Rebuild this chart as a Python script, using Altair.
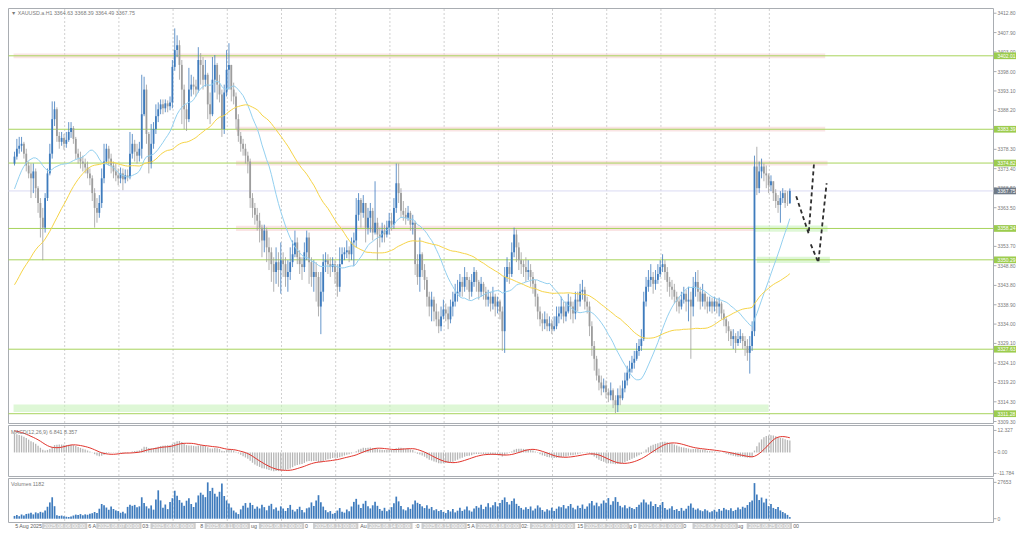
import altair as alt
import pandas as pd
import numpy as np

# ------------------------------------------------------------------ data
# closes of the hours before the visible window (only used to seed the moving averages / MACD)
WARMUP_CLOSE = [3324, 3327, 3322, 3325, 3328, 3326, 3323, 3321, 3324, 3327, 3330, 3328, 3325, 3323,
                3326, 3329, 3327, 3324, 3322, 3325, 3328, 3331, 3329, 3326, 3324, 3327, 3330, 3328,
                3325, 3322, 3324, 3327, 3326, 3323, 3325,
                3328, 3330, 3333, 3337, 3339, 3342, 3346, 3348, 3351, 3355, 3357, 3360, 3364, 3366,
                3369, 3372, 3374, 3377, 3380, 3382,
                3380, 3378, 3379, 3376, 3374.7]

CLOSE = [
    3376.45, 3378.45, 3379.2, 3379.7, 3377.2, 3374.2, 3372.2, 3370.95, 3372.7, 3368.45,
    3364.7, 3360.95, 3358.45, 3365.95, 3372.2, 3377.2, 3385.95, 3388.45, 3381.7, 3380.2,
    3381.2, 3379.7, 3380.7, 3382.7, 3383.7, 3380.95, 3377.2, 3376.2, 3375.2, 3374.7,
    3373.7, 3372.2, 3370.95, 3367.2, 3363.45, 3362.2, 3364.7, 3370.95, 3375.2, 3378.45,
    3375.95, 3374.2, 3372.7, 3371.7, 3370.95, 3372.2, 3370.7, 3371.7, 3371.2, 3377.2,
    3379.7, 3377.7, 3376.7, 3378.45, 3387.2, 3393.45, 3382.2, 3374.7, 3379.7, 3383.45,
    3386.7, 3388.45, 3389.7, 3388.7, 3389.95, 3389.2, 3390.2, 3399.2, 3403.45, 3404.7,
    3399.7, 3393.45, 3388.45, 3385.95, 3393.45, 3394.7, 3394.2, 3393.45, 3400.95, 3399.7,
    3395.95, 3397.2, 3389.7, 3387.2, 3395.95, 3399.7, 3394.7, 3392.2, 3383.45, 3392.7,
    3398.45, 3399.7, 3393.45, 3391.7, 3385.95, 3381.7, 3379.7, 3378.45, 3376.7, 3375.2,
    3365.95, 3363.45, 3361.7, 3360.2, 3358.45, 3355.2, 3357.7, 3353.45, 3352.2, 3349.2,
    3347.2, 3349.7, 3347.7, 3350.2, 3349.2, 3345.95, 3347.2, 3349.7, 3351.7, 3354.7,
    3350.95, 3349.2, 3348.45, 3352.2, 3355.95, 3349.7, 3345.95, 3347.2, 3345.95, 3338.45,
    3342.2, 3349.7, 3350.2, 3349.2, 3348.45, 3349.2, 3347.2, 3343.45, 3349.2, 3351.7,
    3352.2, 3352.7, 3351.7, 3354.7, 3355.2, 3361.7, 3365.45, 3362.2, 3364.7, 3358.45,
    3360.95, 3362.7, 3357.2, 3359.7, 3356.7, 3355.95, 3357.7, 3356.7, 3358.45, 3360.2,
    3359.2, 3363.45, 3369.7, 3367.2, 3362.7, 3361.7, 3360.95, 3362.2, 3359.2, 3359.7,
    3349.2, 3345.95, 3351.7, 3347.7, 3345.2, 3340.95, 3338.45, 3340.2, 3337.2, 3335.2,
    3333.45, 3335.95, 3337.7, 3336.7, 3335.2, 3338.45, 3339.7, 3341.7, 3342.2, 3344.7,
    3343.45, 3345.95, 3345.2, 3342.2, 3344.7, 3347.2, 3344.7, 3342.2, 3344.2, 3342.2,
    3340.2, 3340.95, 3339.2, 3340.95, 3338.45, 3339.7, 3337.2, 3332.2, 3345.95, 3348.45,
    3346.7, 3352.2, 3356.7, 3353.45, 3350.2, 3349.2, 3348.45, 3347.2, 3347.7, 3345.95,
    3344.2, 3340.95, 3337.2, 3335.2, 3334.2, 3335.2, 3333.45, 3334.2, 3332.7, 3333.45,
    3335.95, 3336.7, 3338.45, 3335.95, 3337.2, 3339.7, 3338.45, 3336.7, 3340.2, 3339.7,
    3342.2, 3342.7, 3339.7, 3338.45, 3333.45, 3328.45, 3325.2, 3320.95, 3319.2, 3317.7,
    3318.45, 3316.7, 3315.95, 3317.2, 3314.7, 3313.45, 3315.95, 3315.2, 3317.7, 3319.7,
    3321.7, 3322.7, 3324.2, 3325.2, 3327.2, 3328.45, 3330.2, 3339.7, 3343.45, 3345.2,
    3345.95, 3344.2, 3345.2, 3346.7, 3348.45, 3349.2, 3347.2, 3344.7, 3343.45, 3342.7,
    3340.95, 3339.7, 3338.45, 3340.2, 3341.7, 3339.7, 3340.2, 3338.45, 3343.45, 3344.7,
    3342.2, 3339.7, 3341.7, 3339.7, 3338.45, 3339.7, 3338.45, 3339.7, 3338.45, 3339.2,
    3336.7, 3335.2, 3333.45, 3332.2, 3330.2, 3330.95, 3329.2, 3330.2, 3330.95, 3329.7,
    3328.45, 3326.7, 3328.45, 3332.2, 3373.95, 3368.45, 3372.7, 3373.95, 3372.2, 3371.7,
    3369.2, 3370.2, 3367.2, 3365.2, 3364.2, 3365.95, 3367.2, 3364.7, 3364.63, 3367.75,
]

HIGH = [
    3377.7, 3380.95, 3381.45, 3381.45, 3380.2, 3378.45, 3375.2, 3374.7, 3374.7, 3373.45,
    3368.95, 3365.95, 3363.45, 3367.2, 3373.45, 3379.7, 3390.45, 3390.45, 3388.95, 3382.7,
    3382.7, 3382.2, 3382.7, 3385.2, 3385.2, 3384.2, 3381.45, 3378.45, 3377.7, 3376.7,
    3375.95, 3375.2, 3373.45, 3371.7, 3368.45, 3365.95, 3366.7, 3373.45, 3379.7, 3379.7,
    3379.2, 3377.2, 3375.2, 3374.7, 3373.45, 3373.7, 3373.45, 3373.2, 3373.2, 3382.7,
    3382.2, 3380.7, 3379.7, 3380.2, 3397.2, 3396.7, 3394.7, 3382.7, 3384.7, 3385.2,
    3389.7, 3390.2, 3390.95, 3390.95, 3390.95, 3390.7, 3391.7, 3400.95, 3408.95, 3407.2,
    3405.95, 3400.95, 3394.7, 3389.7, 3398.95, 3397.2, 3396.7, 3395.95, 3404.2, 3402.7,
    3401.7, 3400.95, 3397.7, 3392.7, 3401.7, 3402.2, 3400.2, 3397.2, 3393.45, 3394.7,
    3403.45, 3405.2, 3399.7, 3395.2, 3392.7, 3387.2, 3382.7, 3380.95, 3379.7, 3377.7,
    3375.95, 3367.2, 3364.7, 3363.45, 3362.2, 3359.2, 3359.2, 3358.45, 3355.95, 3353.45,
    3350.95, 3353.45, 3352.2, 3354.7, 3352.2, 3350.95, 3350.2, 3353.45, 3355.2, 3357.7,
    3355.95, 3352.7, 3350.95, 3354.7, 3357.7, 3357.2, 3350.95, 3350.2, 3349.7, 3347.2,
    3347.2, 3351.7, 3352.2, 3351.7, 3350.95, 3350.95, 3350.2, 3349.2, 3353.45, 3353.45,
    3353.45, 3355.2, 3353.7, 3355.95, 3357.2, 3365.95, 3367.2, 3365.95, 3366.7, 3364.7,
    3363.45, 3364.7, 3363.45, 3370.2, 3360.95, 3358.45, 3359.7, 3359.2, 3360.2, 3362.2,
    3362.2, 3365.95, 3374.7, 3374.7, 3368.45, 3365.2, 3363.45, 3363.95, 3362.7, 3361.7,
    3360.2, 3351.7, 3355.95, 3352.2, 3349.2, 3345.95, 3342.2, 3342.2, 3340.95, 3339.2,
    3337.2, 3338.45, 3340.2, 3339.2, 3338.45, 3340.2, 3342.2, 3344.2, 3345.2, 3346.7,
    3345.95, 3348.45, 3347.2, 3345.95, 3346.7, 3348.45, 3347.7, 3345.2, 3345.95, 3344.7,
    3343.45, 3342.7, 3342.2, 3343.45, 3341.7, 3340.95, 3340.2, 3338.45, 3348.45, 3350.95,
    3349.7, 3354.7, 3358.45, 3357.95, 3354.7, 3352.2, 3350.2, 3350.95, 3350.2, 3349.2,
    3347.2, 3345.2, 3341.7, 3338.45, 3336.7, 3337.2, 3336.7, 3335.95, 3335.2, 3335.95,
    3338.45, 3338.45, 3340.95, 3339.7, 3339.7, 3341.7, 3340.95, 3339.7, 3342.2, 3342.2,
    3344.2, 3345.2, 3343.45, 3340.95, 3339.7, 3334.7, 3329.7, 3325.95, 3322.7, 3320.95,
    3320.2, 3319.7, 3317.7, 3319.2, 3317.7, 3315.95, 3317.7, 3318.45, 3319.7, 3321.7,
    3323.45, 3324.7, 3325.95, 3327.2, 3329.2, 3330.2, 3332.7, 3342.2, 3345.95, 3347.7,
    3349.2, 3347.2, 3347.7, 3349.2, 3350.2, 3351.7, 3350.2, 3348.45, 3345.95, 3345.2,
    3344.2, 3342.2, 3340.95, 3342.2, 3343.45, 3342.7, 3343.45, 3342.2, 3345.95, 3347.2,
    3347.7, 3343.45, 3344.2, 3342.2, 3340.95, 3340.95, 3340.7, 3340.95, 3340.45, 3340.7,
    3339.7, 3337.7, 3335.95, 3334.7, 3332.7, 3332.7, 3331.7, 3332.2, 3332.7, 3331.7,
    3330.95, 3330.2, 3330.95, 3334.7, 3376.7, 3378.95, 3375.2, 3375.95, 3374.7, 3374.2,
    3372.2, 3371.7, 3370.2, 3368.2, 3366.7, 3367.7, 3368.45, 3367.95, 3367.7, 3368.39,
]

LOW = [
    3374.2, 3375.7, 3377.2, 3377.7, 3375.95, 3372.7, 3370.95, 3365.95, 3367.2, 3365.95,
    3362.2, 3355.95, 3350.2, 3357.2, 3365.2, 3371.7, 3375.95, 3384.2, 3380.2, 3378.45,
    3379.2, 3378.2, 3378.7, 3380.2, 3381.2, 3379.7, 3375.7, 3374.7, 3373.45, 3372.7,
    3372.2, 3370.95, 3369.2, 3365.2, 3358.45, 3359.7, 3360.95, 3363.45, 3369.7, 3374.7,
    3374.2, 3372.2, 3370.95, 3370.2, 3369.2, 3369.7, 3367.95, 3369.7, 3370.2, 3370.7,
    3375.95, 3375.2, 3374.7, 3375.2, 3375.95, 3386.7, 3379.7, 3372.2, 3373.45, 3378.45,
    3382.2, 3385.2, 3387.2, 3387.2, 3387.7, 3387.7, 3388.2, 3388.7, 3398.2, 3401.7,
    3395.95, 3384.7, 3383.45, 3382.95, 3385.2, 3391.7, 3392.2, 3391.7, 3392.7, 3394.7,
    3393.45, 3394.2, 3385.95, 3384.7, 3386.7, 3392.7, 3390.95, 3390.2, 3381.45, 3382.2,
    3391.7, 3393.45, 3390.45, 3389.7, 3383.45, 3380.2, 3377.7, 3376.7, 3374.7, 3372.2,
    3363.45, 3360.95, 3359.2, 3357.7, 3354.7, 3350.95, 3352.2, 3349.7, 3347.7, 3344.7,
    3342.2, 3344.2, 3343.45, 3341.7, 3345.95, 3343.45, 3342.2, 3345.2, 3348.45, 3350.95,
    3349.2, 3346.7, 3345.2, 3347.2, 3350.2, 3344.2, 3343.45, 3342.2, 3339.7, 3335.95,
    3331.45, 3339.7, 3347.2, 3346.7, 3345.95, 3347.2, 3344.2, 3340.95, 3342.2, 3349.2,
    3350.2, 3350.7, 3349.7, 3350.2, 3348.7, 3353.45, 3360.2, 3358.45, 3360.95, 3354.7,
    3356.7, 3357.2, 3355.2, 3356.7, 3350.2, 3353.45, 3354.7, 3354.7, 3355.95, 3356.7,
    3357.7, 3358.2, 3362.2, 3364.7, 3360.95, 3360.2, 3359.2, 3360.2, 3357.7, 3356.7,
    3346.45, 3343.95, 3342.2, 3345.95, 3342.7, 3338.45, 3335.95, 3334.7, 3334.7, 3333.45,
    3331.7, 3332.2, 3335.2, 3334.7, 3332.7, 3334.2, 3335.95, 3338.45, 3339.7, 3340.95,
    3340.95, 3342.2, 3342.7, 3340.2, 3340.95, 3343.45, 3342.2, 3340.2, 3340.95, 3340.2,
    3338.45, 3338.45, 3337.2, 3337.7, 3335.95, 3336.7, 3335.2, 3327.2, 3326.7, 3344.7,
    3344.2, 3345.95, 3350.95, 3349.7, 3347.7, 3346.7, 3345.95, 3344.7, 3345.2, 3343.45,
    3341.7, 3338.45, 3335.2, 3333.45, 3332.2, 3332.7, 3332.2, 3332.2, 3331.45, 3332.2,
    3332.7, 3334.2, 3335.2, 3334.2, 3334.7, 3336.7, 3335.2, 3334.2, 3335.2, 3337.2,
    3338.45, 3340.2, 3337.7, 3336.7, 3330.95, 3325.95, 3322.2, 3319.7, 3317.2, 3315.95,
    3316.7, 3315.2, 3314.2, 3314.7, 3312.7, 3311.45, 3311.7, 3313.45, 3314.7, 3316.7,
    3318.45, 3320.2, 3321.7, 3322.7, 3324.7, 3325.95, 3327.2, 3329.7, 3338.45, 3342.2,
    3343.45, 3341.7, 3342.7, 3344.2, 3345.95, 3347.2, 3345.2, 3342.2, 3340.95, 3340.2,
    3339.2, 3337.2, 3336.7, 3337.7, 3339.2, 3337.2, 3334.7, 3325.2, 3335.95, 3340.95,
    3339.7, 3337.7, 3338.45, 3337.7, 3336.7, 3337.2, 3336.7, 3337.2, 3336.7, 3335.95,
    3335.2, 3333.45, 3331.7, 3329.7, 3328.45, 3327.7, 3326.7, 3328.45, 3329.2, 3327.7,
    3325.95, 3324.7, 3321.45, 3327.2, 3330.95, 3366.7, 3367.2, 3370.95, 3370.2, 3368.45,
    3367.2, 3367.7, 3365.2, 3363.45, 3362.2, 3359.7, 3364.7, 3363.45, 3363.95, 3364.49,
]

VOLUME = [
    2100, 2800, 1900, 3200, 2500, 3600, 3900, 4500, 3300, 4800, 4100, 5200, 4700,
    6200, 9100, 12400, 16300, 9500, 2600, 2100, 2400, 1800, 1500, 1300, 1700,
    2400, 3100, 2800, 3500, 2600, 3300, 3000, 3800, 4200, 5100, 4400, 7600, 11200, 10300,
    8500, 6800, 9200, 7400, 6300, 5800, 4500, 5200, 4000, 9000, 10600, 9800, 10500, 8700, 9400,
    16300, 12000, 9400, 7800, 10100, 6900, 14600, 21600, 13900, 8400, 10800, 7300, 12700, 15600,
    21300, 17400, 14200, 12200, 9800, 13700, 15600, 11200, 8900, 12300, 17700, 19800, 18200, 16400,
    27653, 21000, 23500, 19000, 16800, 20500, 26800, 17300, 13900, 11600, 8500, 6200, 4800, 3500,
    7100, 9800, 11900, 8400, 12100, 10400, 7600,
    9200, 7800, 10600, 8800, 6400, 9900, 11300, 7200, 8500, 6100, 9400, 7700, 5900, 8200, 10500,
    6800, 5400, 7300, 9100, 6600, 4800, 7900, 8600, 12400, 9700,
    13800, 17900, 12600, 9200, 6500, 4900, 5800, 3700, 4400, 6200, 8100, 5300, 4600, 7000, 5600,
    9300, 12800, 15100, 10700, 8200, 11400, 13600, 9500, 7800, 10200,
    12900, 9800, 7400, 6100, 8300, 5700, 6900, 8800, 11700, 16800, 13200, 9600, 7100,
    6300, 8700, 7500, 10900, 13800, 12100, 11200, 9400, 8100, 10300, 7600, 8900, 6400, 7200, 5800, 6700,
    5100, 4300, 6600, 5500, 7400, 4800, 6100, 8300, 5900, 7000, 9200, 6300, 5400,
    7800, 9600, 8400, 10700, 7300, 9100, 11800, 8600, 10200, 12600, 9400, 11900, 14300,
    16200, 12700, 10800, 13500, 15400, 11300, 9700, 8200,
    6900, 8800, 7400, 9300, 6200, 7700, 10100, 8500, 6600, 5400, 7100, 6300, 8400, 5900, 7600, 9200,
    8700, 10400, 7800, 9600, 11200, 8300, 7100, 9900, 8100, 10800, 7500, 9300, 11700, 13400, 10100, 12200, 9500,
    11500, 13900, 12100, 15700, 10600, 13200, 16400, 12800,
    9800, 8600, 10300, 7900, 9100, 8200, 7300, 8900, 10600, 12400,
    14600, 12300, 10800, 13100, 9700, 11200, 8900, 10400, 12700,
    8100, 6900, 7800, 9400, 6600, 7300, 5800, 8200, 6100, 7500, 9800, 11600, 8300, 6900, 7700,
    6400, 5700, 7100, 6200, 4900, 5600, 6800, 5300, 7400, 6100, 8200, 7000, 6500, 7900, 5800,
    6700, 8500, 7200, 9100, 8300, 10400, 12600,
    13800, 27100, 18400, 14200, 16100, 12300, 15200,
    9600, 11100, 8200, 7400, 8900, 6300, 5100, 4200, 2900, 1182,
]

PRICE_TICKS = [3412.8, 3407.9, 3403.0, 3398.0, 3393.1, 3388.2, 3383.3, 3378.3, 3373.4, 3368.5,
               3363.5, 3358.6, 3353.7, 3348.8, 3343.8, 3338.9, 3334.0, 3329.1, 3324.1, 3319.2,
               3314.3, 3309.3]
MACD_TICKS = [12.327, 0.0, -11.784]
MACD_TICK_LABELS = ["12.327", "0.00", "-11.784"]
VOL_TICKS = [27653, 0]
VOL_TICK_LABELS = ["27653", "0"]

LEVELS = [3402.01, 3383.39, 3374.82, 3358.24, 3350.29, 3327.63, 3311.28]
LAST_PRICE = 3367.75

# shaded zones on the chart (from bar, to bar, low price, high price, kind)
ZONE_X0 = [-0.4, 94, 94, 94, 314, 315, -0.4]
ZONE_X1 = [344, 344, 345, 314, 345, 346, 320]
ZONE_P0 = [3401.4, 3382.8, 3374.2, 3357.6, 3357.4, 3349.5, 3311.7]
ZONE_P1 = [3402.6, 3384.0, 3375.4, 3358.9, 3359.0, 3351.1, 3313.6]
ZONE_KIND = ["pink", "pink", "pink", "pink", "green", "green", "green"]

# hand-drawn dashed forecast lines (bar position, price)
DRAW_SEG = ["a", "a", "a", "b", "b", "b"]
DRAW_X = [331.7, 337.0, 339.3, 337.9, 341.1, 344.6]
DRAW_P = [3366.4, 3356.9, 3375.1, 3354.2, 3349.6, 3369.7]

DAY_LABELS = ["2025.08.06 00:00", "2025.08.07 00:00", "2025.08.08 00:00", "2025.08.11 00:00",
              "2025.08.12 00:00", "2025.08.13 00:00", "2025.08.14 00:00", "2025.08.15 00:00",
              "2025.08.18 00:00", "2025.08.19 00:00", "2025.08.20 00:00", "2025.08.21 00:00",
              "2025.08.22 00:00", "2025.08.25 00:00"]
DAY_BAR = [21.3, 44.3, 67.3, 90.3, 113.3, 136.3, 159.3, 182.3, 205.3, 228.3, 251.3, 274.3, 297.3, 320.3]

FRAG_TEXT = ["5 Aug 2025", "6 A", "03:", "8", "ug", "0", "Au", ":0", "5 A", "02:", "15", "g 0", "0", "ug", "00"]
FRAG_BAR = [0.3, 31.3, 54.2, 78.8, 100.4, 123.3, 146.7, 170.0, 192.1, 215.0, 238.8, 260.8, 283.8, 306.7, 330.4]

TITLE = "\u25bc XAUUSD.a.H1  3364.63 3368.39 3364.49 3367.75"
MACD_TITLE = "MACD(12,26,9) 6.841 8.357"
VOL_TITLE = "Volumes 1182"

# ------------------------------------------------------------------ derived series
n = min(len(CLOSE), len(HIGH), len(LOW), len(VOLUME))
nw = len(WARMUP_CLOSE)
allc = pd.Series(WARMUP_CLOSE + CLOSE[:n], dtype=float)
sma20 = allc.rolling(20).mean()
sma50 = allc.rolling(50).mean()
ema12 = allc.ewm(span=12, adjust=False).mean()
ema26 = allc.ewm(span=26, adjust=False).mean()
macd = ema12 - ema26
signal = macd.rolling(9).mean()

opens = [WARMUP_CLOSE[-1]] + CLOSE[: n - 1]
df = pd.DataFrame({"i": np.arange(n), "o": opens, "c": CLOSE[:n], "v": VOLUME[:n]})
df["h"] = np.maximum.reduce([np.array(HIGH[:n]), df["o"].values, df["c"].values])
df["l"] = np.minimum.reduce([np.array(LOW[:n]), df["o"].values, df["c"].values])
df["ma20"] = sma20.iloc[nw:].values
df["ma50"] = sma50.iloc[nw:].values
df["macd"] = macd.iloc[nw:].values
df["sig"] = signal.iloc[nw:].values

levels_df = pd.DataFrame({"p": LEVELS, "lab": [f"{v:.2f}" for v in LEVELS]})
levels_df["top"] = levels_df["p"] + 0.85
levels_df["bot"] = levels_df["p"] - 0.85
last_df = pd.DataFrame({"p": [LAST_PRICE], "lab": [f"{LAST_PRICE:.2f}"],
                        "top": [LAST_PRICE + 0.85], "bot": [LAST_PRICE - 0.85]})
zones_df = pd.DataFrame({"x0": ZONE_X0, "x1": ZONE_X1, "p0": ZONE_P0, "p1": ZONE_P1, "kind": ZONE_KIND})
draw_df = pd.DataFrame({"seg": DRAW_SEG, "x": DRAW_X, "p": DRAW_P, "k": range(len(DRAW_X))})
days_df = pd.DataFrame({"d": DAY_BAR, "lab": DAY_LABELS})
days_df["d0"] = days_df["d"] - 9.6
days_df["d1"] = days_df["d"] + 9.6
frag_df = pd.DataFrame({"fx": FRAG_BAR, "t": FRAG_TEXT})
pt_df = pd.DataFrame({"p": PRICE_TICKS, "lab": [f"{v:.2f}" for v in PRICE_TICKS]})
mt_df = pd.DataFrame({"p": MACD_TICKS, "lab": MACD_TICK_LABELS})
vt_df = pd.DataFrame({"p": VOL_TICKS, "lab": VOL_TICK_LABELS})
one = pd.DataFrame({"k": [0]})

# ------------------------------------------------------------------ layout & style
FONT = "Liberation Sans"
FS = 5.3
FSR = 5.0
TOTAL_W, TOTAL_H = 1008, 521
FX0, FX1 = 0.5, 985.5          # panel frame, left / right
FY0, FY1 = 0.5, 415.5          # price panel
MY0, MY1 = 417.5, 468.5        # MACD panel
VY0, VY1 = 470.5, 514.5        # volume panel
TY0, TY1 = 515.0, 521.0        # time labels row

BLUE = "#3e7bbd"
GREY = "#9d9d9d"
LEVEL_GREEN = "#a8d45c"
LABEL_GREEN = "#9ccc4e"
FRAME = "#a9adb2"
GRID = "#d0d0d0"
TXT = "#7a7a7a"

xsc = alt.Scale(domain=[-0.42, 413.3], range=[FX0, FX1], nice=False, zero=False)
psc = alt.Scale(domain=[3308.8, 3414.0], range=[FY1, FY0], nice=False, zero=False)
msc = alt.Scale(domain=[-13.5, 15.1], range=[MY1, MY0], nice=False, zero=False, clamp=True)
vsc = alt.Scale(domain=[-2900, 30600], range=[VY1, VY0], nice=False, zero=False)


def X(f):
    return alt.X(f, scale=xsc, axis=None)


def P(f):
    return alt.Y(f, scale=psc, axis=None)


def M(f):
    return alt.Y(f, scale=msc, axis=None)


def V(f):
    return alt.Y(f, scale=vsc, axis=None)


up_color = alt.condition("datum.c >= datum.o", alt.value(BLUE), alt.value(GREY))
base = alt.Chart(df)
layers = []

# frames
for y0, y1 in [(FY0, FY1), (MY0, MY1), (VY0, VY1)]:
    layers.append(alt.Chart(one).mark_rect(fill="white", fillOpacity=0, stroke=FRAME, strokeWidth=1).encode(
        x=alt.value(FX0), x2=alt.value(FX1), y=alt.value(y0), y2=alt.value(y1)))

# day separators in every panel
for y0, y1 in [(FY0, FY1), (MY0, MY1), (VY0, VY1)]:
    layers.append(alt.Chart(days_df).mark_rule(strokeDash=[2, 2], color=GRID, strokeWidth=1).encode(
        x=X("d:Q"), y=alt.value(y0 + 0.5), y2=alt.value(y1 - 0.5)))

# ---- price panel
layers.append(alt.Chart(zones_df).mark_rect(opacity=0.6).encode(
    x=X("x0:Q"), x2="x1:Q", y=P("p0:Q"), y2="p1:Q",
    color=alt.condition("datum.kind == 'pink'", alt.value("#f6d2d2"), alt.value("#c8f2ba"))))
layers.append(alt.Chart(levels_df).mark_rule(color=LEVEL_GREEN, strokeWidth=1).encode(
    x=alt.value(FX0), x2=alt.value(FX1), y=P("p:Q")))
layers.append(alt.Chart(last_df).mark_rule(color="#dadaf3", strokeWidth=1).encode(
    x=alt.value(FX0), x2=alt.value(FX1), y=P("p:Q")))
layers.append(base.mark_rule(strokeWidth=1, opacity=0.8).encode(
    x=X("i:Q"), y=P("l:Q"), y2="h:Q", color=up_color))
layers.append(base.mark_bar(size=1.8).encode(
    x=X("i:Q"), y=P("o:Q"), y2="c:Q", color=up_color))
layers.append(base.mark_line(color="#93d0f0", strokeWidth=1).encode(x=X("i:Q"), y=P("ma20:Q")))
layers.append(base.mark_line(color="#f6d447", strokeWidth=1).encode(x=X("i:Q"), y=P("ma50:Q")))
layers.append(alt.Chart(draw_df).mark_line(color="#2f2f2f", strokeWidth=1.8, strokeDash=[4, 3]).encode(
    x=X("x:Q"), y=P("p:Q"), detail="seg:N", order="k:Q"))
layers.append(alt.Chart(one).mark_text(align="left", baseline="middle", font=FONT, fontSize=FS, color=TXT).encode(
    x=alt.value(3), y=alt.value(5), text=alt.value(TITLE)))

# price scale on the right
layers.append(alt.Chart(pt_df).mark_rule(color=FRAME).encode(
    x=alt.value(FX1), x2=alt.value(FX1 + 3), y=P("p:Q")))
layers.append(alt.Chart(pt_df).mark_text(align="left", baseline="middle", font=FONT, fontSize=FSR, color=TXT).encode(
    x=alt.value(FX1 + 4), y=P("p:Q"), text="lab:N"))
layers.append(alt.Chart(levels_df).mark_rect(color=LABEL_GREEN).encode(
    x=alt.value(FX1 + 0.5), x2=alt.value(TOTAL_W), y=P("top:Q"), y2="bot:Q"))
layers.append(alt.Chart(levels_df).mark_text(align="left", baseline="middle", font=FONT, fontSize=FSR,
                                             color="white").encode(x=alt.value(FX1 + 4), y=P("p:Q"), text="lab:N"))
layers.append(alt.Chart(last_df).mark_rect(color="#6f7a87").encode(
    x=alt.value(FX1 + 0.5), x2=alt.value(TOTAL_W), y=P("top:Q"), y2="bot:Q"))
layers.append(alt.Chart(last_df).mark_text(align="left", baseline="middle", font=FONT, fontSize=FSR,
                                           color="white").encode(x=alt.value(FX1 + 4), y=P("p:Q"), text="lab:N"))

# ---- MACD panel
layers.append(base.mark_bar(size=1.3, color="#b6b6b6").encode(x=X("i:Q"), y=M("macd:Q"), y2=alt.datum(0)))
layers.append(base.mark_line(color="#e2342c", strokeWidth=1).encode(x=X("i:Q"), y=M("sig:Q")))
layers.append(alt.Chart(one).mark_text(align="left", baseline="middle", font=FONT, fontSize=FS, color=TXT).encode(
    x=alt.value(3), y=alt.value(MY0 + 6.5), text=alt.value(MACD_TITLE)))
layers.append(alt.Chart(mt_df).mark_rule(color=FRAME).encode(
    x=alt.value(FX1), x2=alt.value(FX1 + 3), y=M("p:Q")))
layers.append(alt.Chart(mt_df).mark_text(align="left", baseline="middle", font=FONT, fontSize=FSR, color=TXT).encode(
    x=alt.value(FX1 + 4), y=M("p:Q"), text="lab:N"))

# ---- volume panel
layers.append(base.mark_bar(size=1.7, color=BLUE).encode(x=X("i:Q"), y=V("v:Q"), y2=alt.datum(0)))
layers.append(alt.Chart(one).mark_text(align="left", baseline="middle", font=FONT, fontSize=FS, color=TXT).encode(
    x=alt.value(3), y=alt.value(VY0 + 5), text=alt.value(VOL_TITLE)))
layers.append(alt.Chart(vt_df).mark_rule(color=FRAME).encode(
    x=alt.value(FX1), x2=alt.value(FX1 + 3), y=V("p:Q")))
layers.append(alt.Chart(vt_df).mark_text(align="left", baseline="middle", font=FONT, fontSize=FSR, color=TXT).encode(
    x=alt.value(FX1 + 4), y=V("p:Q"), text="lab:N"))

# ---- time axis row
layers.append(alt.Chart(frag_df).mark_text(align="left", baseline="middle", font=FONT, fontSize=FS,
                                           color="#5e5e5e").encode(
    x=X("fx:Q"), y=alt.value((TY0 + TY1) / 2), text="t:N"))
layers.append(alt.Chart(days_df).mark_rect(color="#cdcdcd").encode(
    x=X("d0:Q"), x2="d1:Q", y=alt.value(TY0), y2=alt.value(TY1)))
layers.append(alt.Chart(days_df).mark_text(align="center", baseline="middle", font=FONT, fontSize=FS,
                                           color="#ffffff").encode(
    x=X("d:Q"), y=alt.value((TY0 + TY1) / 2), text="lab:N"))

chart = alt.layer(*layers).resolve_scale(y="independent").properties(
    width=TOTAL_W, height=TOTAL_H,
    padding={"left": 0, "top": 0, "right": 0, "bottom": 0},
    autosize=alt.AutoSizeParams(type="none"),
    background="white",
).configure_view(strokeWidth=0)

chart.save("out.html", embed_options={"renderer": "svg", "actions": False})
